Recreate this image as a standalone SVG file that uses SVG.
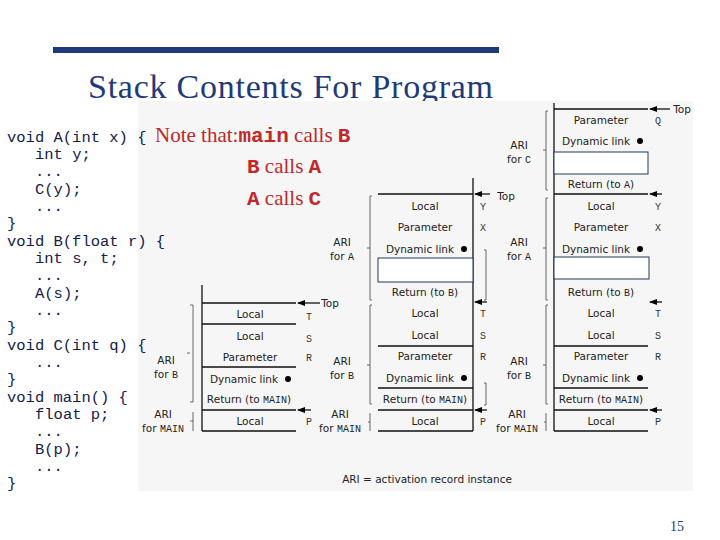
<svg xmlns="http://www.w3.org/2000/svg" width="720" height="540" viewBox="0 0 720 540">
<defs>
<marker id="ah" markerWidth="8" markerHeight="6" refX="7" refY="3" orient="auto" markerUnits="userSpaceOnUse"><path d="M0,0 L8,3 L0,6 z" fill="#000"/></marker>
<style>
.code{font-family:"Liberation Mono",monospace;font-size:15.5px;fill:#14204a}
.note{font-family:"Liberation Serif",serif;font-size:21px;fill:#c0282a}
.nm{font-family:"Liberation Mono",monospace;font-weight:bold}
.c{font-family:"DejaVu Sans",sans-serif;font-size:10.5px;fill:#222;text-anchor:middle}
.l{font-family:"Liberation Mono",monospace;font-size:10px;fill:#333;text-anchor:middle}
.ln{stroke:#111;stroke-width:1.3;fill:none}
.br{stroke:#444;stroke-width:0.8;fill:none}
.box{fill:#fff;stroke:#1f3a5a;stroke-width:1}
</style>
</defs>
<rect width="720" height="540" fill="#fff"/>
<rect x="53" y="47" width="446" height="6" fill="#1f3a7a"/>
<text x="88" y="98" font-family="Liberation Serif,serif" font-size="34" fill="#1f3a7a" textLength="405">Stack Contents For Program</text>
<rect x="138" y="101" width="555" height="390" fill="#f6f6f6"/>
<g id="code" class="code">
<text x="7" y="142">void A(int x) {</text>
<text x="35" y="159">int y;</text>
<text x="35" y="176">...</text>
<text x="35" y="194">C(y);</text>
<text x="35" y="211">...</text>
<text x="7" y="228">}</text>
<text x="7" y="246">void B(float r) {</text>
<text x="35" y="263">int s, t;</text>
<text x="35" y="280">...</text>
<text x="35" y="298">A(s);</text>
<text x="35" y="315">...</text>
<text x="7" y="332">}</text>
<text x="7" y="350">void C(int q) {</text>
<text x="35" y="367">...</text>
<text x="7" y="384">}</text>
<text x="7" y="402">void main() {</text>
<text x="35" y="419">float p;</text>
<text x="35" y="436">...</text>
<text x="35" y="454">B(p);</text>
<text x="35" y="471">...</text>
<text x="7" y="488">}</text>
</g>
<g id="note" class="note">
<text x="155" y="142">Note that:<tspan class="nm">main</tspan> calls <tspan class="nm">B</tspan></text>
<text x="247" y="173"><tspan class="nm">B</tspan> calls <tspan class="nm">A</tspan></text>
<text x="247" y="205"><tspan class="nm">A</tspan> calls <tspan class="nm">C</tspan></text>
</g>
<g id="connectors">
<path class="ln" d="M202,285 V431 M202,303 H296 M202,324 H296 M202,367 H296 M202,410 H296 M202,431 H296"/>
<line class="ln" x1="320" y1="303" x2="298" y2="303" marker-end="url(#ah)"/>
<line class="ln" x1="311" y1="410" x2="298" y2="410" marker-end="url(#ah)"/>
<path class="ln" d="M473,178 V431 M378,194 H473 M378,346 H473 M378,388 H473 M378,410 H473 M378,431 H473"/>
<line class="ln" x1="490" y1="194" x2="475" y2="194" marker-end="url(#ah)"/>
<line class="ln" x1="487" y1="302" x2="475" y2="302" marker-end="url(#ah)"/>
<line class="ln" x1="487" y1="410" x2="475" y2="410" marker-end="url(#ah)"/>
<path class="ln" d="M554,103 V431 M554,109 H648 M554,194 H648 M554,346 H648 M554,388 H648 M554,410 H648 M554,431 H648"/>
<line class="ln" x1="670" y1="109" x2="650" y2="109" marker-end="url(#ah)"/>
<line class="ln" x1="662" y1="194" x2="650" y2="194" marker-end="url(#ah)"/>
<line class="ln" x1="662" y1="302" x2="650" y2="302" marker-end="url(#ah)"/>
<line class="ln" x1="662" y1="410" x2="650" y2="410" marker-end="url(#ah)"/>
<path class="br" d="M193,305 V402 M190,305 H193 M190,353 H187 M193,402 H190 M193,412 V431 M190,421 H193 M486,250 V300 M484,250 H486 M484,300 H486 M486,383 V405 M484,383 H486 M484,405 H486"/>
<path class="br" d="M370,196 V300 M372,196 H370 M370,248 H367 M372,300 H370 M370,305 V404 M372,305 H370 M370,365 H367 M372,404 H370 M370,413 V431 M368,422 H370"/>
<path class="br" d="M546,111 V190 M548,111 H546 M546,150 H543 M548,190 H546 M546,198 V300 M548,198 H546 M546,248 H543 M548,300 H546 M546,305 V404 M548,305 H546 M546,365 H543 M548,404 H546 M546,413 V431 M544,422 H546"/>
</g>
<g id="stack1">
<text class="c" x="250" y="318">Local</text>
<text class="c" x="250" y="340">Local</text>
<text class="c" x="250" y="361">Parameter</text>
<text class="c" x="244" y="383">Dynamic link</text><circle cx="288" cy="379" r="3"/>
<text class="c" x="249" y="403">Return (to <tspan font-family="Liberation Mono" font-size="10">MAIN</tspan>)</text>
<text class="c" x="250" y="425">Local</text>
<text class="l" x="309" y="320">T</text><text class="l" x="309" y="342">S</text><text class="l" x="309" y="361">R</text><text class="l" x="309" y="425">P</text>
<text class="c" x="330" y="307">Top</text>
<text class="c" x="166" y="364">ARI</text><text class="c" x="166" y="378">for <tspan font-family="Liberation Mono" font-size="10">B</tspan></text>
<text class="c" x="163" y="418">ARI</text><text class="c" x="163" y="432">for <tspan font-family="Liberation Mono" font-size="10">MAIN</tspan></text>
</g>
<g id="stack2">
<rect class="box" x="378" y="258" width="95" height="24"/>
<text class="c" x="425" y="210">Local</text>
<text class="c" x="425" y="231">Parameter</text>
<text class="c" x="420" y="253">Dynamic link</text><circle cx="464" cy="249" r="3"/>
<text class="c" x="425" y="296">Return (to <tspan font-family="Liberation Mono" font-size="10">B</tspan>)</text>
<text class="c" x="425" y="317">Local</text>
<text class="c" x="425" y="339">Local</text>
<text class="c" x="425" y="360">Parameter</text>
<text class="c" x="420" y="382">Dynamic link</text><circle cx="464" cy="378" r="3"/>
<text class="c" x="425" y="403">Return (to <tspan font-family="Liberation Mono" font-size="10">MAIN</tspan>)</text>
<text class="c" x="425" y="425">Local</text>
<text class="l" x="483" y="210">Y</text><text class="l" x="483" y="231">X</text><text class="l" x="483" y="317">T</text><text class="l" x="483" y="339">S</text><text class="l" x="483" y="360">R</text><text class="l" x="483" y="425">P</text>
<text class="c" x="506" y="200">Top</text>
<text class="c" x="342" y="246">ARI</text><text class="c" x="342" y="260">for <tspan font-family="Liberation Mono" font-size="10">A</tspan></text>
<text class="c" x="342" y="365">ARI</text><text class="c" x="342" y="379">for <tspan font-family="Liberation Mono" font-size="10">B</tspan></text>
<text class="c" x="340" y="418">ARI</text><text class="c" x="340" y="432">for <tspan font-family="Liberation Mono" font-size="10">MAIN</tspan></text>
</g>
<g id="stack3">
<rect class="box" x="554" y="152" width="94" height="22"/>
<rect class="box" x="554" y="257" width="95" height="22"/>
<text class="c" x="601" y="124">Parameter</text>
<text class="c" x="596" y="145">Dynamic link</text><circle cx="640" cy="141" r="3"/>
<text class="c" x="601" y="188">Return (to <tspan font-family="Liberation Mono" font-size="10">A</tspan>)</text>
<text class="c" x="601" y="210">Local</text>
<text class="c" x="601" y="231">Parameter</text>
<text class="c" x="596" y="253">Dynamic link</text><circle cx="640" cy="249" r="3"/>
<text class="c" x="601" y="296">Return (to <tspan font-family="Liberation Mono" font-size="10">B</tspan>)</text>
<text class="c" x="601" y="317">Local</text>
<text class="c" x="601" y="339">Local</text>
<text class="c" x="601" y="360">Parameter</text>
<text class="c" x="596" y="382">Dynamic link</text><circle cx="640" cy="378" r="3"/>
<text class="c" x="601" y="403">Return (to <tspan font-family="Liberation Mono" font-size="10">MAIN</tspan>)</text>
<text class="c" x="601" y="425">Local</text>
<text class="l" x="658" y="124">Q</text><text class="l" x="658" y="210">Y</text><text class="l" x="658" y="231">X</text><text class="l" x="658" y="317">T</text><text class="l" x="658" y="339">S</text><text class="l" x="658" y="360">R</text><text class="l" x="658" y="425">P</text>
<text class="c" x="682" y="113">Top</text>
<text class="c" x="519" y="149">ARI</text><text class="c" x="519" y="163">for <tspan font-family="Liberation Mono" font-size="10">C</tspan></text>
<text class="c" x="519" y="246">ARI</text><text class="c" x="519" y="260">for <tspan font-family="Liberation Mono" font-size="10">A</tspan></text>
<text class="c" x="519" y="365">ARI</text><text class="c" x="519" y="379">for <tspan font-family="Liberation Mono" font-size="10">B</tspan></text>
<text class="c" x="517" y="418">ARI</text><text class="c" x="517" y="432">for <tspan font-family="Liberation Mono" font-size="10">MAIN</tspan></text>
</g>
<text class="c" x="427" y="483">ARI = activation record instance</text>
<text x="677" y="531" font-family="Liberation Serif,serif" font-size="14" fill="#1f3a7a" text-anchor="middle">15</text>
</svg>
